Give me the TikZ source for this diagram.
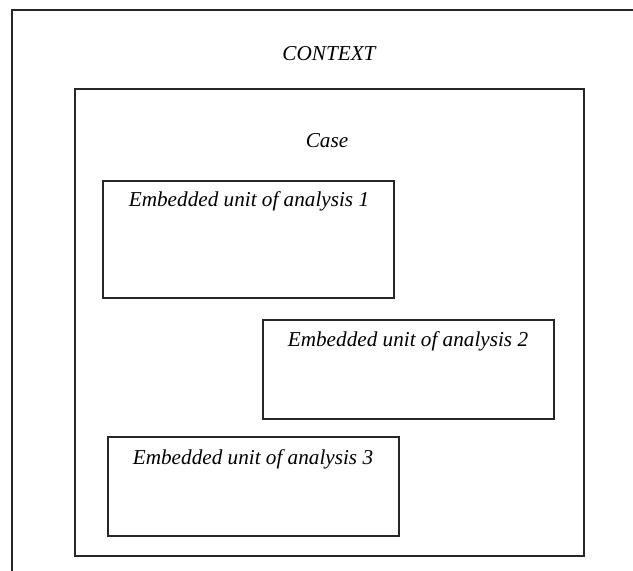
\documentclass[tikz,border=0pt]{standalone}
\usepackage{fontspec}
\setmainfont{Liberation Serif}
\begin{document}
\begin{tikzpicture}[x=1pt,y=-1pt,
  frame/.style={draw=black!85, line width=1.8pt},
  box/.style={draw=black!85, line width=1.8pt, inner sep=0pt, anchor=north west},
  lbl/.style={font=\itshape\fontsize{21.2}{25}\selectfont, anchor=base, inner sep=0pt}]
\useasboundingbox (0,0) rectangle (633,571);
% outer context frame, running past the page edges
\begin{scope}
  \clip (0,0) rectangle (633,571);
  \draw[frame] (12,10) rectangle (700,640);
\end{scope}
\node[lbl] (context) at (329,60) {CONTEXT};
% the case
\node[box, minimum width=509pt, minimum height=467pt] (case) at (74,88) {};
\node[lbl] (caselbl) at (327,147) {Case};
% embedded units
\node[box, minimum width=291pt, minimum height=117pt] (u1) at (102,180) {};
\node[lbl] (u1lbl) at (249,206) {Embedded unit of analysis 1};
\node[box, minimum width=291pt, minimum height=99pt] (u2) at (262,319) {};
\node[lbl] (u2lbl) at (408,346) {Embedded unit of analysis 2};
\node[box, minimum width=291pt, minimum height=99pt] (u3) at (107,436) {};
\node[lbl] (u3lbl) at (253,464) {Embedded unit of analysis 3};
\end{tikzpicture}
\end{document}
